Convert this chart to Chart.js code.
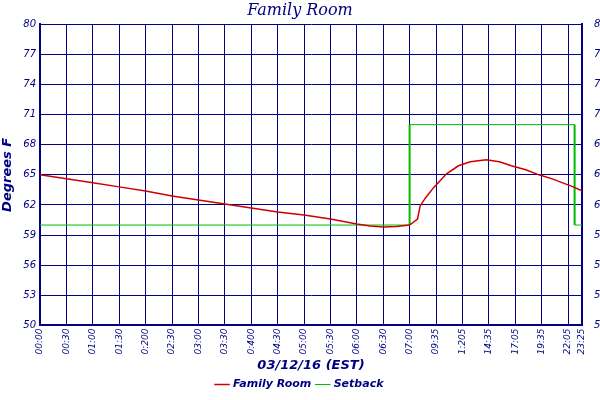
<!DOCTYPE html>
<html>
<head>
<script src="https://cdn.jsdelivr.net/npm/chart.js@4/dist/chart.umd.min.js"></script>
<style>
  body { margin: 0; background: #fff; }
  #wrap { width: 600px; height: 400px; }
</style>
</head>
<body>
<div id="wrap"><canvas id="c"></canvas></div>
<script>
// tick labels and where they sit on the x scale
const tickLabels = ["00:00","00:30","01:00","01:30","0:200","02:30","03:00","03:30","0:400","04:30","05:00","05:30","06:00","06:30","07:00","09:35","1:205","14:35","17:05","19:35","22:05","23:25"];
const tickPos = [0,1,2,3,4,5,6,7,8,9,10,11,12,13,14,15,16,17,18,19,20,20.53];

// Family Room temperature (x position, degrees F)
const roomX = [0,1,2,3,4,5,6,7,8,9,10,11,12,12.5,13,13.5,14,14.3,14.4,14.6,14.9,15.4,15.85,16.3,16.9,17.4,17.85,18.4,18.9,19.4,19.9,20.2,20.53];
const roomY = [65.0,64.6,64.2,63.8,63.4,62.9,62.5,62.1,61.7,61.3,61.0,60.6,60.1,59.9,59.8,59.85,60.0,60.6,61.9,62.7,63.7,65.1,65.9,66.3,66.5,66.3,65.9,65.5,65.0,64.6,64.1,63.8,63.4];

// Setback schedule
const setX = [0,14,14,14,20.25,20.25,20.25,20.53];
const setY = [60,60,65,70,70,65,60,60];

const pts = (xs, ys) => xs.map((x, i) => ({x: x, y: ys[i]}));
const navy = '#000080';
const yTicks = [50,53,56,59,62,65,68,71,74,77,80];
const tickFont = {family: 'DejaVu Sans', style: 'italic', size: 10};

const yAxis = (pos, w) => ({
  position: pos, min: 50, max: 80,
  afterBuildTicks: ax => { ax.ticks = yTicks.map(v => ({value: v})); },
  afterFit: ax => { ax.width = w; },
  ticks: {color: navy, font: tickFont, padding: 4},
  grid: {color: navy, lineWidth: 1, drawTicks: false},
  border: {color: navy, width: 2}
});

new Chart(document.getElementById('c'), {
  type: 'scatter',
  data: {
    datasets: [
      {label: 'Family Room', data: pts(roomX, roomY), showLine: true, borderColor: '#cc0000', backgroundColor: '#cc0000', borderWidth: 1.5, pointRadius: 0, yAxisID: 'y'},
      {label: 'Setback', data: pts(setX, setY), showLine: true, borderColor: '#00bb00', backgroundColor: '#00bb00', borderWidth: 1, pointRadius: 0, yAxisID: 'y',
       segment: {borderWidth: ctx => (ctx.p0.parsed.x === ctx.p1.parsed.x && Math.max(ctx.p0.parsed.y, ctx.p1.parsed.y) <= 70 && Math.min(ctx.p0.parsed.y, ctx.p1.parsed.y) >= 60) ? 2 : 1}}
    ]
  },
  options: {
    responsive: true, maintainAspectRatio: false, animation: false,
    layout: {padding: {left: 0, right: 0, top: 0, bottom: 0}},
    plugins: {
      title: {display: true, text: 'Family Room', color: navy, font: {family: 'DejaVu Serif', style: 'italic', size: 16, weight: 'normal'}, padding: {top: 1, bottom: 4}},
      legend: {position: 'bottom', labels: {usePointStyle: true, pointStyle: 'line', color: navy, font: {family: 'DejaVu Sans', style: 'italic', weight: 'bold', size: 11}, boxWidth: 16, padding: 6}},
      tooltip: {enabled: false}
    },
    scales: {
      x: {
        type: 'linear', min: 0, max: 20.53,
        afterBuildTicks: ax => { ax.ticks = tickPos.map(v => ({value: v})); },
        ticks: {color: navy, font: {family: 'DejaVu Sans', style: 'italic', size: 9}, maxRotation: 90, minRotation: 90, autoSkip: false, padding: 3,
                callback: (v) => tickLabels[tickPos.indexOf(v)]},
        grid: {color: navy, lineWidth: 1, drawTicks: false},
        border: {color: navy, width: 2},
        title: {display: true, text: '03/12/16 (EST)', color: navy, font: {family: 'DejaVu Sans', style: 'italic', weight: 'bold', size: 13}, padding: {top: 0, bottom: 0}}
      },
      y: Object.assign(yAxis('left', 40), {title: {display: true, text: 'Degrees F', color: navy, font: {family: 'DejaVu Sans', style: 'italic', weight: 'bold', size: 13}, padding: 0}}),
      y2: Object.assign(yAxis('right', 18), {grid: {display: false}})
    }
  }
});
</script>
</body>
</html>
